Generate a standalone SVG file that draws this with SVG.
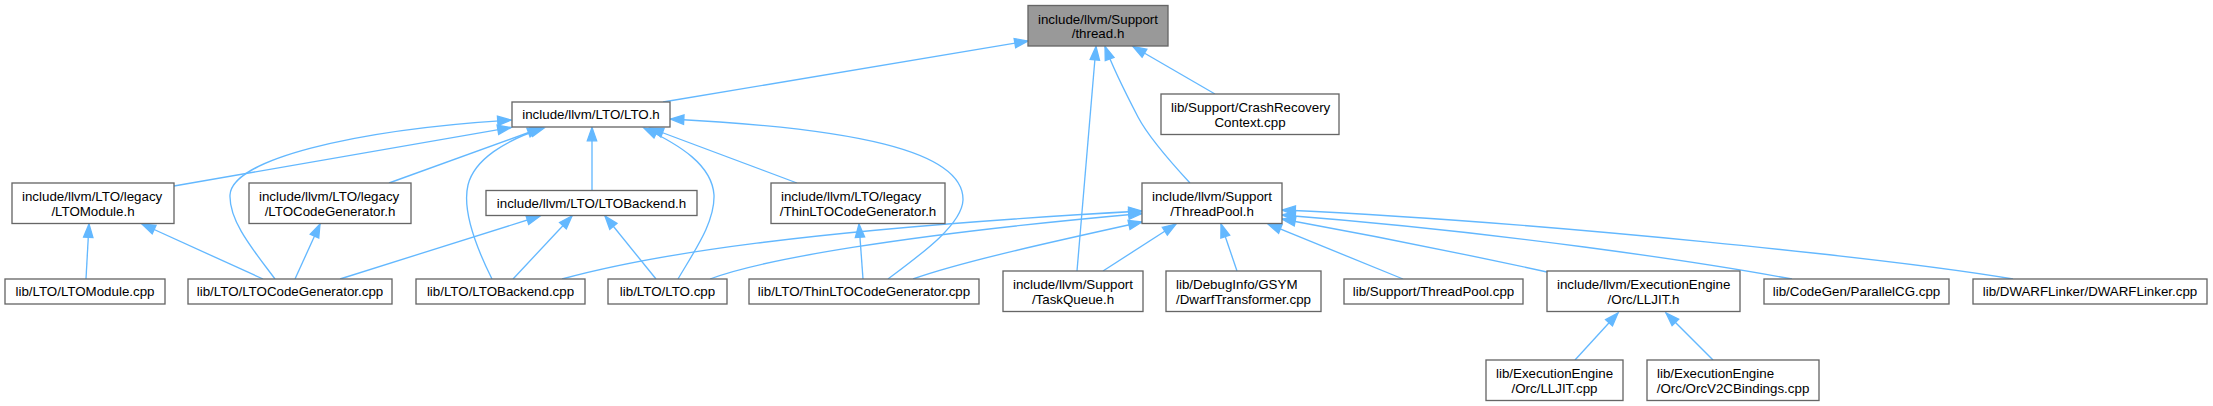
<svg xmlns="http://www.w3.org/2000/svg" width="2213" height="406" viewBox="0 0 2213 406">
<style>
.node rect{fill:#ffffff;stroke:#666666;stroke-width:1.33}
.node.main rect{fill:#999999}
.node text{font-family:"Liberation Sans",Arial,Helvetica,sans-serif;font-size:13.33px;fill:#000000}
.s{text-anchor:start}
.m{text-anchor:middle}
.edge{fill:none;stroke:#63b8ff;stroke-width:1.33;marker-end:url(#arr)}
</style>
<defs>
<marker id="arr" markerUnits="userSpaceOnUse" markerWidth="16" markerHeight="12" refX="13.3" refY="4.67" orient="auto" overflow="visible">
<path d="M0,0 L13.3,4.67 L0,9.33 Z" fill="#63b8ff" stroke="#63b8ff" stroke-width="1.33"/>
</marker>
</defs>
<rect width="2213" height="406" fill="#ffffff"/>
<g id="edges">
<path class="edge" d="M663,102 L1028,41"/>
<path class="edge" d="M1077,271 L1096,46.5"/>
<path class="edge" d="M1190,183 C1165,156 1148,136 1138,117 C1125,92 1113,68 1105,46.5"/>
<path class="edge" d="M1215,94 L1133,46.5"/>
<path class="edge" d="M174,186 L511,127.5"/>
<path class="edge" d="M275,279 C255,252 229,222 230,195 C232,160 350,130 511,120"/>
<path class="edge" d="M389,183 L541,128"/>
<path class="edge" d="M492,279 C475,245 462,210 468,185 C474,160 505,140 544,128"/>
<path class="edge" d="M592,190.5 L592,127.5"/>
<path class="edge" d="M678,279 C695,250 715,222 714,195 C712,165 680,145 644,128"/>
<path class="edge" d="M797,183 L650,128"/>
<path class="edge" d="M888,279 C920,255 962,225 963,200 C964,150 850,128 670.5,119"/>
<path class="edge" d="M86,279 L89,224"/>
<path class="edge" d="M263,279 L142,224"/>
<path class="edge" d="M295,279 L320,224"/>
<path class="edge" d="M340,279 L540,216"/>
<path class="edge" d="M513,279 L572,216"/>
<path class="edge" d="M656,279 L605,216"/>
<path class="edge" d="M863,279 L859,224"/>
<path class="edge" d="M562,279 C650,255 800,230 1142,211"/>
<path class="edge" d="M710,279 C760,260 900,235 1142,213.5"/>
<path class="edge" d="M913,279 C960,262 1060,240 1142,222"/>
<path class="edge" d="M1103,271 L1176,224"/>
<path class="edge" d="M1237,271 L1221,224"/>
<path class="edge" d="M1403,279 L1268,224"/>
<path class="edge" d="M1547,272 C1460,253 1370,235 1282,219"/>
<path class="edge" d="M1792,279 C1700,262 1500,232 1282,215"/>
<path class="edge" d="M2013,279 C1900,260 1550,222 1282,210"/>
<path class="edge" d="M1575,360 L1618,313"/>
<path class="edge" d="M1713,360 L1666,313"/>
</g>
<g id="n_thread_h" class="node main"><rect x="1028" y="5.5" width="140" height="40.5"/><text class="s" x="1038" y="23.8">include/llvm/Support</text><text class="m" x="1098" y="38.2">/thread.h</text></g>
<g id="n_lto_h" class="node"><rect x="512" y="102" width="158" height="25"/><text class="m" x="591" y="119.3">include/llvm/LTO/LTO.h</text></g>
<g id="n_crash" class="node"><rect x="1161" y="94" width="178" height="40.5"/><text class="s" x="1171" y="112.3">lib/Support/CrashRecovery</text><text class="m" x="1250" y="126.7">Context.cpp</text></g>
<g id="n_ltomodule_h" class="node"><rect x="12" y="183" width="162" height="40.5"/><text class="s" x="22" y="201.3">include/llvm/LTO/legacy</text><text class="m" x="93" y="215.7">/LTOModule.h</text></g>
<g id="n_ltocg_h" class="node"><rect x="249" y="183" width="162" height="40.5"/><text class="s" x="259" y="201.3">include/llvm/LTO/legacy</text><text class="m" x="330" y="215.7">/LTOCodeGenerator.h</text></g>
<g id="n_ltobackend_h" class="node"><rect x="486" y="190.5" width="211" height="25"/><text class="m" x="591.5" y="207.8">include/llvm/LTO/LTOBackend.h</text></g>
<g id="n_thinlto_h" class="node"><rect x="771" y="183" width="174" height="40.5"/><text class="s" x="781" y="201.3">include/llvm/LTO/legacy</text><text class="m" x="858" y="215.7">/ThinLTOCodeGenerator.h</text></g>
<g id="n_threadpool_h" class="node"><rect x="1142" y="183" width="140" height="40.5"/><text class="s" x="1152" y="201.3">include/llvm/Support</text><text class="m" x="1212" y="215.7">/ThreadPool.h</text></g>
<g id="n_ltomodule_cpp" class="node"><rect x="5" y="279" width="160" height="25"/><text class="m" x="85" y="296.3">lib/LTO/LTOModule.cpp</text></g>
<g id="n_ltocg_cpp" class="node"><rect x="188" y="279" width="204" height="25"/><text class="m" x="290" y="296.3">lib/LTO/LTOCodeGenerator.cpp</text></g>
<g id="n_ltobackend_cpp" class="node"><rect x="416" y="279" width="169" height="25"/><text class="m" x="500.5" y="296.3">lib/LTO/LTOBackend.cpp</text></g>
<g id="n_lto_cpp" class="node"><rect x="608" y="279" width="119" height="25"/><text class="m" x="667.5" y="296.3">lib/LTO/LTO.cpp</text></g>
<g id="n_thinlto_cpp" class="node"><rect x="749" y="279" width="230" height="25"/><text class="m" x="864" y="296.3">lib/LTO/ThinLTOCodeGenerator.cpp</text></g>
<g id="n_taskqueue_h" class="node"><rect x="1003" y="271" width="140" height="40.5"/><text class="s" x="1013" y="289.3">include/llvm/Support</text><text class="m" x="1073" y="303.7">/TaskQueue.h</text></g>
<g id="n_dwarftransformer" class="node"><rect x="1166" y="271" width="155" height="40.5"/><text class="s" x="1176" y="289.3">lib/DebugInfo/GSYM</text><text class="m" x="1243.5" y="303.7">/DwarfTransformer.cpp</text></g>
<g id="n_threadpool_cpp" class="node"><rect x="1344" y="279" width="179" height="25"/><text class="m" x="1433.5" y="296.3">lib/Support/ThreadPool.cpp</text></g>
<g id="n_lljit_h" class="node"><rect x="1547" y="271" width="193" height="40.5"/><text class="s" x="1557" y="289.3">include/llvm/ExecutionEngine</text><text class="m" x="1643.5" y="303.7">/Orc/LLJIT.h</text></g>
<g id="n_parallelcg" class="node"><rect x="1764" y="279" width="185" height="25"/><text class="m" x="1856.5" y="296.3">lib/CodeGen/ParallelCG.cpp</text></g>
<g id="n_dwarflinker" class="node"><rect x="1973" y="279" width="234" height="25"/><text class="m" x="2090" y="296.3">lib/DWARFLinker/DWARFLinker.cpp</text></g>
<g id="n_lljit_cpp" class="node"><rect x="1486" y="360" width="137" height="40.5"/><text class="s" x="1496" y="378.3">lib/ExecutionEngine</text><text class="m" x="1554.5" y="392.7">/Orc/LLJIT.cpp</text></g>
<g id="n_orcv2" class="node"><rect x="1647" y="360" width="172" height="40.5"/><text class="s" x="1657" y="378.3">lib/ExecutionEngine</text><text class="m" x="1733" y="392.7">/Orc/OrcV2CBindings.cpp</text></g>
</svg>
